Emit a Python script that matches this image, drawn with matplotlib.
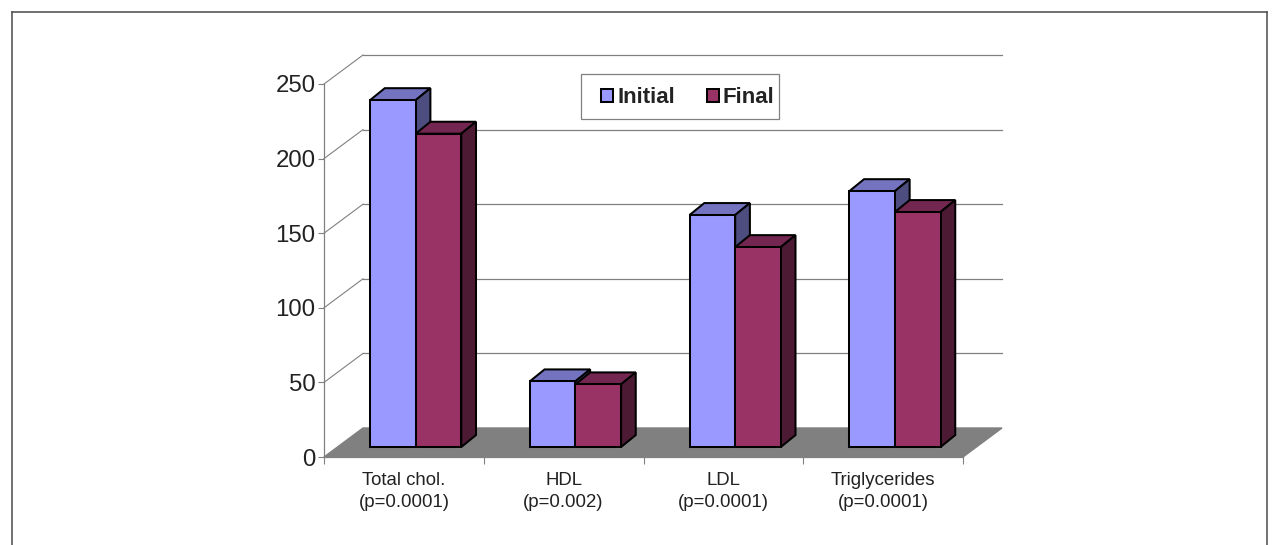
import matplotlib.pyplot as plt
from matplotlib.lines import Line2D
from matplotlib.patches import Patch, Polygon, Rectangle

plt.rcParams['font.family'] = ['Liberation Sans', 'DejaVu Sans']

categories = ['Total chol.\n(p=0.0001)', 'HDL\n(p=0.002)', 'LDL\n(p=0.0001)', 'Triglycerides\n(p=0.0001)']
initial = [232.5, 44, 155.5, 171.5]
final = [210, 42, 134, 157.5]
y_ticks = [0, 50, 100, 150, 200, 250]

W, H = 1272, 545
fig = plt.figure(figsize=(W / 100, H / 100), dpi=100)
fig.patch.set_facecolor('white')

# plot area in pixels: x 324-963, y 84-457
ax = fig.add_axes([324 / W, 1 - 457 / H, (963 - 324) / W, (457 - 84) / H])
ax.set_xlim(0, 4)
ax.set_ylim(0, 250)
ax.patch.set_visible(False)

# outer frame, runs off the bottom of the figure
for xs, ys in [([12, 12], [545, 12]), ([12, 1267], [12, 12]), ([1267, 1267], [12, 545])]:
    fig.add_artist(Line2D([x / W for x in xs], [1 - y / H for y in ys], color='#4a4a4a', lw=1.1))

# 3D offsets in data units
depth_x, depth_y = 39 / 159.75, 29 / 1.492
front_x, front_y = 0.074, 6.7
side_x, side_y = 0.092, 8.0
bar_w = 0.2855
edge_lw = 1.45


def poly(points, color, z, edge='black', lw=edge_lw):
    ax.add_patch(Polygon(points, closed=True, facecolor=color, edgecolor=edge, lw=lw,
                         zorder=z, clip_on=False, joinstyle='miter'))


# floor
poly([(0, 0), (4, 0), (4 + depth_x, depth_y), (depth_x, depth_y)], '#808080', 1, edge='#808080', lw=1)

# back wall gridlines and the diagonals on the left wall
for t in y_ticks[1:]:
    ax.plot([depth_x, 4 + depth_x], [t + depth_y, t + depth_y], color='#808080', lw=0.9, zorder=1, clip_on=False)
    ax.plot([0, depth_x], [t, t + depth_y], color='#808080', lw=0.8, zorder=1, clip_on=False)


def draw_bar(left, value, front, top, side, z):
    base = front_y
    right = left + bar_w
    poly([(left, base + value), (left + side_x, base + value + side_y),
          (right + side_x, base + value + side_y), (right, base + value)], top, z)
    poly([(right, base), (right + side_x, base + side_y),
          (right + side_x, base + value + side_y), (right, base + value)], side, z)
    ax.bar(left, value, width=bar_w, bottom=base, align='edge', color=front, edgecolor='black',
           lw=edge_lw, zorder=z + 0.1, clip_on=False)


for i in range(len(categories)):
    mid = i + 0.5 + front_x
    draw_bar(mid - bar_w, initial[i], '#9999FF', '#7373BF', '#4D4D80', 2 + i)
    draw_bar(mid, final[i], '#993366', '#732650', '#4D1A33', 2.5 + i)

# axes
for name in ['top', 'right']:
    ax.spines[name].set_visible(False)
for name in ['left', 'bottom']:
    ax.spines[name].set_color('#808080')
    ax.spines[name].set_linewidth(0.9)
ax.spines['bottom'].set_zorder(1.5)

ax.set_yticks(y_ticks)
ax.tick_params(axis='y', length=4, width=0.8, color='#808080', labelsize=17.3, labelcolor='#222222', pad=2)
ax.set_xticks(range(5))
ax.set_xticklabels([])
ax.set_xticks([i + 0.5 for i in range(4)], categories, minor=True, linespacing=1.42)
ax.tick_params(axis='x', which='major', length=5, width=0.8, color='#808080')
ax.tick_params(axis='x', which='minor', length=0, labelsize=13.4, labelcolor='#222222', pad=10.5)

# legend box is wider on the swatch side, so its frame is drawn separately
fig.add_artist(Rectangle((581 / W, 1 - 119 / H), 198 / W, 45 / H, transform=fig.transFigure,
                         facecolor='white', edgecolor='#808080', lw=0.9, zorder=10))
handles = [Patch(facecolor='#9999FF', edgecolor='black', lw=edge_lw, label='Initial'),
           Patch(facecolor='#993366', edgecolor='black', lw=edge_lw, label='Final')]
leg = fig.legend(handles=handles, ncol=2, loc='center', bbox_to_anchor=(688 / W, 1 - 97.5 / H),
                 bbox_transform=fig.transFigure, frameon=False,
                 prop={'size': 16, 'weight': 'bold'}, handlelength=0.54, handleheight=0.54,
                 handletextpad=0.2, columnspacing=1.4, borderpad=0, borderaxespad=0)
leg.set_zorder(20)
for text in leg.get_texts():
    text.set_color('#222222')

fig.savefig('out.png', dpi=100)
